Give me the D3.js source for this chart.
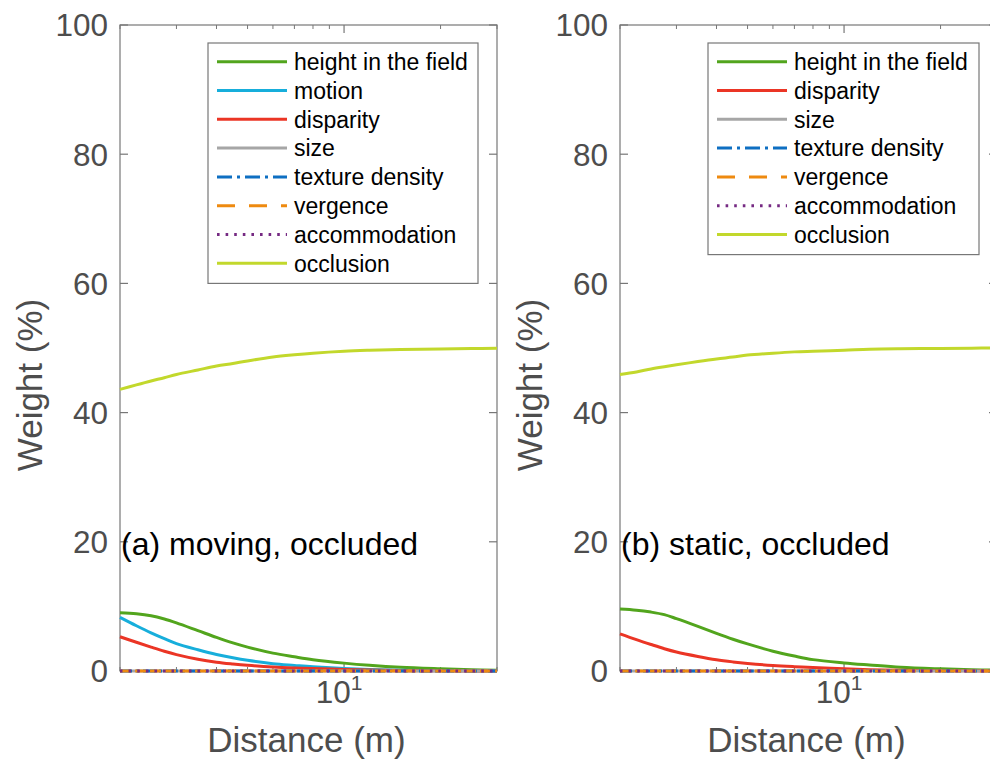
<!DOCTYPE html>
<html>
<head>
<meta charset="utf-8">
<script src="https://cdn.jsdelivr.net/npm/d3@7"></script>
<style>
  html, body { margin: 0; padding: 0; background: #fff; overflow: hidden; }
  svg { display: block; font-family: "Liberation Sans", Arial, sans-serif; }
</style>
</head>
<body>
<svg id="chart" width="990" height="771"></svg>
<script>
// ---------------- DATA ----------------
const distance = [2, 2.25, 2.5, 2.75, 3, 3.5, 4, 4.5, 5, 6, 7, 8, 10, 12, 15, 20, 25, 30];

// (a) moving, occluded
const movingHeight    = [9.0, 8.85, 8.55, 8.05, 7.45, 6.25, 5.2, 4.35, 3.7, 2.77, 2.2, 1.75, 1.22, 0.88, 0.57, 0.34, 0.2, 0.1];
const movingMotion    = [8.3, 7.0, 5.9, 5.0, 4.24, 3.29, 2.56, 2.04, 1.65, 1.14, 0.87, 0.65, 0.38, 0.22, 0.1, 0.04, 0.02, 0.01];
const movingDisparity = [5.3, 4.45, 3.7, 3.05, 2.54, 1.82, 1.37, 1.09, 0.88, 0.61, 0.47, 0.39, 0.25, 0.15, 0.08, 0.03, 0.015, 0.01];
const movingOcclusion = [43.6, 44.3, 44.9, 45.4, 45.9, 46.6, 47.2, 47.6, 48.0, 48.6, 48.95, 49.2, 49.5, 49.65, 49.78, 49.85, 49.92, 49.95];

// (b) static, occluded
const staticHeight    = [9.6, 9.42, 9.12, 8.72, 8.1, 6.9, 5.82, 4.92, 4.19, 3.06, 2.31, 1.76, 1.25, 0.93, 0.57, 0.33, 0.2, 0.12];
const staticDisparity = [5.75, 4.85, 4.1, 3.45, 2.94, 2.25, 1.74, 1.41, 1.17, 0.85, 0.67, 0.55, 0.33, 0.21, 0.12, 0.05, 0.02, 0.01];
const staticOcclusion = [45.9, 46.3, 46.75, 47.1, 47.4, 47.9, 48.3, 48.6, 48.9, 49.2, 49.4, 49.5, 49.65, 49.8, 49.88, 49.93, 49.97, 50.0];

// cues with zero weight in both conditions
const zeroWeight = [0, 0, 0, 0, 0, 0, 0, 0, 0, 0, 0, 0, 0, 0, 0, 0, 0, 0];

const yTicks = [0, 20, 40, 60, 80, 100];
const xMajorTicks = [10];
const xMinorTicks = [2, 3, 4, 5, 6, 7, 8, 9, 20, 30];

const panelTitles = ["(a) moving, occluded", "(b) static, occluded"];
const xLabel = "Distance (m)";
const yLabel = "Weight (%)";

// ---------------- STYLES ----------------
const cueStyle = {
  "height in the field": { color: "#52a51d", dash: null, legendDash: null },
  "motion":              { color: "#17aedb", dash: null, legendDash: null },
  "disparity":           { color: "#eb3525", dash: null, legendDash: null },
  "size":                { color: "#a6a6a6", dash: null, legendDash: null },
  "texture density":     { color: "#0e6fc2", dash: "12,4,3,4", legendDash: "15,5,3,5" },
  "vergence":            { color: "#ee8a10", dash: "11,4", legendDash: "18,14" },
  "accommodation":       { color: "#762a83", dash: "2.6,6", legendDash: "2.6,6" },
  "occlusion":           { color: "#c2d82c", dash: null, legendDash: null }
};

const panels = [
  {
    left: 120,
    title: panelTitles[0],
    series: [
      { name: "height in the field", values: movingHeight },
      { name: "motion", values: movingMotion },
      { name: "disparity", values: movingDisparity },
      { name: "size", values: zeroWeight },
      { name: "texture density", values: zeroWeight },
      { name: "vergence", values: zeroWeight },
      { name: "accommodation", values: zeroWeight },
      { name: "occlusion", values: movingOcclusion }
    ],
    legend: { x: 208, y: 43, w: 270 }
  },
  {
    left: 620,
    title: panelTitles[1],
    series: [
      { name: "height in the field", values: staticHeight },
      { name: "disparity", values: staticDisparity },
      { name: "size", values: zeroWeight },
      { name: "texture density", values: zeroWeight },
      { name: "vergence", values: zeroWeight },
      { name: "accommodation", values: zeroWeight },
      { name: "occlusion", values: staticOcclusion }
    ],
    legend: { x: 708, y: 43, w: 271 }
  }
];

// ---------------- DRAW ----------------
const svg = d3.select("#chart");
const plotW = 377, plotTop = 25, plotBottom = 671;
const axisColor = "#777";
const textColor = "#4d4d4d";
const tickFont = 31.5, labelFont = 35;

panels.forEach(p => {
  const x = d3.scaleLog().domain([2, 30]).range([p.left, p.left + plotW]);
  const y = d3.scaleLinear().domain([0, 100]).range([plotBottom, plotTop]);
  const g = svg.append("g");

  // box
  g.append("rect").attr("x", p.left).attr("y", plotTop).attr("width", plotW).attr("height", plotBottom - plotTop)
    .attr("fill", "none").attr("stroke", axisColor).attr("stroke-width", 1.2);

  // y ticks (left and right, inward)
  yTicks.forEach(t => {
    const yy = y(t);
    g.append("line").attr("x1", p.left).attr("x2", p.left + 8).attr("y1", yy).attr("y2", yy)
      .attr("stroke", axisColor).attr("stroke-width", 1.2);
    g.append("line").attr("x1", p.left + plotW - 8).attr("x2", p.left + plotW).attr("y1", yy).attr("y2", yy)
      .attr("stroke", axisColor).attr("stroke-width", 1.2);
    g.append("text").attr("x", p.left - 12).attr("y", yy).attr("dy", "0.36em")
      .attr("text-anchor", "end").attr("font-size", tickFont).attr("fill", textColor).text(t);
  });

  // x ticks
  xMajorTicks.forEach(t => {
    const xx = x(t);
    g.append("line").attr("x1", xx).attr("x2", xx).attr("y1", plotBottom).attr("y2", plotBottom - 8)
      .attr("stroke", axisColor).attr("stroke-width", 1.2);
    g.append("line").attr("x1", xx).attr("x2", xx).attr("y1", plotTop).attr("y2", plotTop + 8)
      .attr("stroke", axisColor).attr("stroke-width", 1.2);
    const lbl = g.append("text").attr("x", xx - 5).attr("y", plotBottom + 32)
      .attr("text-anchor", "middle").attr("font-size", tickFont).attr("fill", textColor);
    lbl.append("tspan").text("10");
    lbl.append("tspan").attr("font-size", 21).attr("dy", -13).text(Math.round(Math.log10(t)));
  });
  xMinorTicks.forEach(t => {
    const xx = x(t);
    g.append("line").attr("x1", xx).attr("x2", xx).attr("y1", plotBottom).attr("y2", plotBottom - 4)
      .attr("stroke", axisColor).attr("stroke-width", 1);
    g.append("line").attr("x1", xx).attr("x2", xx).attr("y1", plotTop).attr("y2", plotTop + 4)
      .attr("stroke", axisColor).attr("stroke-width", 1);
  });

  // axis labels
  g.append("text").attr("x", p.left + plotW / 2 - 2).attr("y", 752)
    .attr("text-anchor", "middle").attr("font-size", labelFont).attr("fill", textColor).text(xLabel);
  g.append("text").attr("transform", `translate(${p.left - 78},385) rotate(-90)`)
    .attr("text-anchor", "middle").attr("font-size", labelFont).attr("fill", textColor).text(yLabel);

  // data lines
  const line = d3.line().x((d, i) => x(distance[i])).y(d => y(d)).curve(d3.curveCatmullRom.alpha(0.5));
  p.series.forEach(s => {
    const st = cueStyle[s.name];
    g.append("path").datum(s.values).attr("d", line)
      .attr("fill", "none").attr("stroke", st.color).attr("stroke-width", 3)
      .attr("stroke-linejoin", "round")
      .attr("stroke-dasharray", st.dash);
  });

  // panel title
  g.append("text").attr("x", p.left + 1).attr("y", 555)
    .attr("font-size", 32).attr("fill", "#000").text(p.title);

  // legend
  const rowH = 28.8;
  const L = p.legend;
  const lh = 10 + rowH * p.series.length;
  g.append("rect").attr("x", L.x).attr("y", L.y).attr("width", L.w).attr("height", lh)
    .attr("fill", "#fff").attr("stroke", axisColor).attr("stroke-width", 1.2);
  p.series.forEach((s, i) => {
    const st = cueStyle[s.name];
    const cy = L.y + 18.7 + i * rowH;
    g.append("line").attr("x1", L.x + 9).attr("x2", L.x + 79).attr("y1", cy).attr("y2", cy)
      .attr("stroke", st.color).attr("stroke-width", 3).attr("stroke-dasharray", st.legendDash);
    g.append("text").attr("x", L.x + 86).attr("y", cy).attr("dy", "0.36em")
      .attr("font-size", 23).attr("fill", "#000").text(s.name);
  });
});
</script>
</body>
</html>
